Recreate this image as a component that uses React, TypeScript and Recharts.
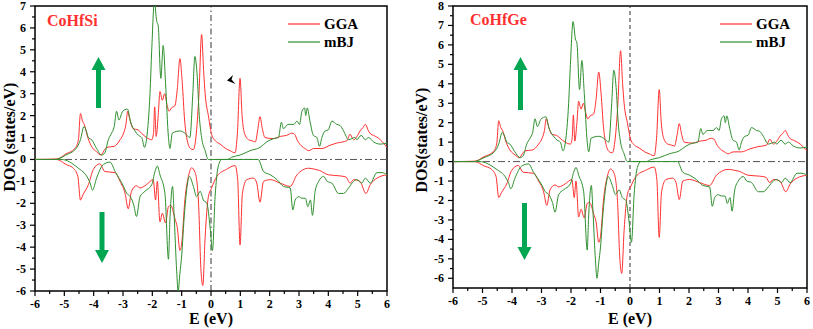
import { LineChart, Line, XAxis, YAxis, ReferenceLine, ReferenceArea, Legend } from 'recharts';

// energy (eV) vs DOS (states/eV); spin-down drawn as negative values
const ggaUp: [number, number][] = [
  [-6, 0], [-5.26, 0.02], [-4.95, 0.25], [-4.64, 0.5], [-4.52, 0.9], [-4.45, 2.1], [-4.38, 1.75], [-4.32, 1.6],
  [-4.2, 1.0], [-4.05, 0.55], [-3.9, 0.35], [-3.75, 0.2], [-3.65, 0.4], [-3.56, 0.55], [-3.3, 0.6], [-3.1, 0.9],
  [-2.98, 1.2], [-2.9, 1.6], [-2.84, 2.2], [-2.78, 1.9], [-2.65, 1.4], [-2.49, 1.35], [-2.37, 1.2], [-2.2, 1.0],
  [-2.02, 0.9], [-1.96, 1.2], [-1.92, 2.4], [-1.87, 1.05], [-1.8, 2.0], [-1.74, 3.1], [-1.66, 2.7], [-1.58, 3.0],
  [-1.5, 2.5], [-1.43, 2.2], [-1.35, 2.35], [-1.23, 2.45], [-1.15, 3.2], [-1.06, 4.6], [-0.98, 3.5], [-0.9, 1.8],
  [-0.83, 1.0], [-0.7, 0.5], [-0.6, 0.45], [-0.5, 1.2], [-0.41, 3.0], [-0.32, 5.7], [-0.25, 4.0], [-0.2, 3.0],
  [-0.09, 2.0], [0.03, 1.1], [0.15, 0.85], [0.31, 0.7], [0.5, 0.5], [0.65, 0.4], [0.82, 0.3], [0.9, 1.2],
  [0.99, 3.7], [1.06, 2.0], [1.14, 1.2], [1.28, 0.9], [1.4, 0.85], [1.51, 0.8], [1.6, 1.4], [1.67, 1.95],
  [1.75, 1.4], [1.84, 1.0], [2.13, 0.95], [2.36, 1.05], [2.58, 1.1], [2.76, 1.2], [2.85, 1.15], [2.95, 0.85],
  [3.1, 0.6], [3.2, 0.5], [3.33, 0.4], [3.5, 0.5], [3.78, 0.5], [4.06, 0.65], [4.29, 0.75], [4.63, 0.85],
  [4.74, 1.15], [4.86, 0.9], [5.0, 1.1], [5.08, 1.3], [5.18, 1.45], [5.26, 1.6], [5.37, 1.3], [5.45, 1.15],
  [5.54, 1.1], [5.77, 0.9], [6, 0.55],
];

const mbjUp: [number, number][] = [
  [-6, 0], [-5.3, 0], [-5.2, 0.03], [-4.95, 0.2], [-4.6, 0.5], [-4.45, 0.9], [-4.33, 1.5], [-4.25, 1.3],
  [-4.18, 1.0], [-4.07, 0.9], [-3.9, 0.5], [-3.73, 0.2], [-3.62, 0.3], [-3.5, 0.9], [-3.39, 1.2], [-3.3, 1.5],
  [-3.22, 2.2], [-3.14, 1.8], [-3.01, 2.2], [-2.85, 2.3], [-2.74, 1.7], [-2.59, 1.3], [-2.47, 1.1], [-2.36, 1.0],
  [-2.27, 0.55], [-2.19, 1.0], [-2.08, 3.0], [-2.02, 5.0], [-1.93, 7.2], [-1.85, 6.3], [-1.8, 6.1], [-1.71, 3.7],
  [-1.63, 5.2], [-1.55, 3.5], [-1.45, 1.0], [-1.4, 0.5], [-1.32, 1.2], [-1.06, 1.3], [-0.89, 1.2], [-0.72, 1.0],
  [-0.62, 3.0], [-0.55, 4.7], [-0.47, 3.8], [-0.4, 2.0], [-0.32, 1.0], [-0.2, 0.4], [-0.09, 0], [0.55, 0],
  [0.7, 0.1], [0.99, 0.2], [1.33, 0.4], [1.67, 0.55], [1.9, 0.8], [2.13, 0.95], [2.3, 1.0], [2.4, 1.7],
  [2.47, 1.4], [2.62, 1.6], [2.82, 1.6], [2.93, 1.75], [3.02, 1.6], [3.1, 2.2], [3.19, 2.35], [3.23, 2.0],
  [3.28, 2.35], [3.38, 1.7], [3.49, 1.1], [3.61, 1.0], [3.7, 0.6], [3.78, 1.0], [3.89, 1.3], [4.0, 1.35],
  [4.12, 1.75], [4.29, 1.6], [4.4, 1.55], [4.52, 1.3], [4.69, 0.9], [4.91, 1.0], [4.97, 0.9], [5.12, 1.1],
  [5.26, 0.9], [5.37, 1.0], [5.54, 0.8], [5.77, 0.7], [6, 0.75],
];

const ggaDown: [number, number][] = [
  [-6, 0], [-5.26, 0], [-4.94, -0.23], [-4.71, -0.38], [-4.54, -0.77], [-4.45, -1.85], [-4.36, -1.6], [-4.18, -1.15],
  [-4.01, -0.45], [-3.79, -0.2], [-3.62, -0.55], [-3.27, -0.6], [-3.1, -1.0], [-2.93, -1.55], [-2.82, -2.25], [-2.71, -1.45],
  [-2.54, -1.2], [-2.42, -1.3], [-2.2, -1.15], [-1.97, -0.92], [-1.89, -1.85], [-1.83, -1.0], [-1.74, -2.85], [-1.66, -2.45],
  [-1.55, -2.9], [-1.45, -2.15], [-1.37, -2.1], [-1.23, -2.7], [-1.15, -3.1], [-1.06, -4.15], [-1.0, -3.85], [-0.89, -1.85],
  [-0.77, -0.77], [-0.66, -0.38], [-0.54, -0.6], [-0.43, -1.85], [-0.34, -5.1], [-0.28, -5.75], [-0.2, -3.55], [-0.09, -1.7],
  [0.02, -1.3], [0.2, -0.77], [0.53, -0.45], [0.82, -0.28], [0.91, -0.92], [0.99, -3.9], [1.07, -1.55], [1.22, -0.92],
  [1.45, -0.85], [1.56, -1.08], [1.67, -1.95], [1.79, -1.0], [2.02, -0.92], [2.36, -1.08], [2.7, -1.23], [2.93, -0.7],
  [3.33, -0.4], [3.55, -0.45], [3.7, -0.5], [4.0, -0.7], [4.4, -0.75], [4.6, -0.8], [4.74, -1.08], [4.86, -0.92],
  [5.08, -1.0], [5.28, -1.55], [5.43, -1.15], [5.66, -0.85], [6, -0.7],
];

const mbjDown: [number, number][] = [
  [-6, 0], [-5.1, 0], [-4.54, -0.38], [-4.2, -0.85], [-4.12, -1.08], [-4.04, -1.4], [-3.9, -0.85], [-3.67, -0.23],
  [-3.44, -0.12], [-3.27, -0.55], [-2.98, -1.23], [-2.87, -1.55], [-2.75, -1.7], [-2.63, -2.1], [-2.54, -2.6], [-2.42, -1.7],
  [-2.25, -1.45], [-2.02, -1.15], [-1.91, -0.55], [-1.83, -0.3], [-1.74, -0.7], [-1.57, -1.55], [-1.45, -4.55], [-1.4, -2.75],
  [-1.31, -1.23], [-1.26, -2.45], [-1.17, -5.1], [-1.12, -6.0], [-1.06, -5.2], [-1.0, -4.4], [-0.92, -2.75], [-0.83, -1.4],
  [-0.74, -0.77], [-0.6, -1.23], [-0.49, -1.7], [-0.37, -1.45], [-0.26, -1.85], [-0.14, -2.0], [-0.03, -3.1], [0.05, -4.15],
  [0.14, -1.7], [0.25, -0.3], [0.37, 0], [1.61, 0], [1.79, -0.55], [2.02, -0.7], [2.25, -0.92], [2.47, -1.23],
  [2.7, -1.3], [2.79, -2.3], [2.87, -1.85], [2.99, -1.7], [3.1, -1.77], [3.22, -1.77], [3.3, -2.15], [3.39, -1.85],
  [3.46, -2.55], [3.55, -1.45], [3.67, -1.0], [3.84, -0.77], [3.96, -1.0], [4.12, -1.08], [4.35, -1.55], [4.52, -1.55],
  [4.69, -1.3], [4.86, -1.0], [4.97, -0.92], [5.14, -1.08], [5.26, -0.85], [5.43, -1.08], [5.66, -0.6], [5.83, -0.6],
  [6, -0.7],
];

const energyMajor = [-6, -5, -4, -3, -2, -1, 0, 1, 2, 3, 4, 5, 6];
const dosMajorSi = [-6, -5, -4, -3, -2, -1, 0, 1, 2, 3, 4, 5, 6, 7];
const dosMajorGe = [-6, -5, -4, -3, -2, -1, 0, 1, 2, 3, 4, 5, 6, 7, 8];

const FONT = '"Liberation Serif", "Times New Roman", serif';
const RED = '#ff3030';
const GREEN = '#2e8f2e';
const ARROW = '#00a651';

const toPts = (arr: [number, number][]) => arr.map(([E, dos]) => ({ E, dos }));
const withMinor = (major: number[]) =>
  major.flatMap((v, i) => (i < major.length - 1 ? [v, v + 0.5] : [v]));

function XTick({ x, y, payload }: any) {
  const v = payload.value;
  const major = Number.isInteger(v);
  return (
    <g>
      <line x1={x} x2={x} y1={y} y2={y + (major ? 5 : 3)} stroke="#000" strokeWidth={1.2} />
      {major && (
        <text x={x} y={y + 17} textAnchor="middle" fontFamily={FONT} fontWeight="bold" fontSize={12} fill="#000">
          {v}
        </text>
      )}
    </g>
  );
}

function YTick({ x, y, payload }: any) {
  const v = payload.value;
  const major = Number.isInteger(v);
  return (
    <g>
      <line x1={x - (major ? 5 : 3)} x2={x} y1={y} y2={y} stroke="#000" strokeWidth={1.2} />
      {major && (
        <text x={x - 9} y={y + 4} textAnchor="end" fontFamily={FONT} fontWeight="bold" fontSize={12} fill="#000">
          {v}
        </text>
      )}
    </g>
  );
}

function LegendBox({ payload }: any) {
  const items = (payload || []).filter((p: any) => p.type !== 'none' && !String(p.value).includes('down'));
  return (
    <div style={{ whiteSpace: 'nowrap' }}>
      {items.map((p: any) => (
        <div key={p.value} style={{ display: 'flex', alignItems: 'center', height: 18 }}>
          <svg width={32} height={4}>
            <line x1={0} x2={32} y1={2} y2={2} stroke={p.color} strokeWidth={1.2} />
          </svg>
          <span style={{ marginLeft: 4, fontFamily: FONT, fontWeight: 'bold', fontSize: 15, color: '#000' }}>
            {p.value}
          </span>
        </div>
      ))}
    </div>
  );
}

function Panel(props: {
  width: number;
  yMin: number;
  yMax: number;
  yMajor: number[];
  axisW: number;
  xH: number;
  right: number;
  zeroDash: string;
  legendLeft: number;
}) {
  const { width, yMin, yMax, yMajor, axisW, xH, right, zeroDash, legendLeft } = props;
  return (
    <LineChart width={width} height={329} margin={{ top: 6, right, bottom: 0, left: 0 }}>
      <XAxis
        type="number"
        dataKey="E"
        domain={[-6, 6]}
        ticks={withMinor(energyMajor)}
        interval={0}
        height={xH}
        tickSize={0}
        tickMargin={0}
        axisLine={false}
        tickLine={false}
        tick={<XTick />}
        allowDataOverflow
      />
      <YAxis
        type="number"
        domain={[yMin, yMax]}
        ticks={withMinor(yMajor).filter((v) => v >= yMin)}
        interval={0}
        width={axisW}
        tickSize={0}
        tickMargin={0}
        axisLine={false}
        tickLine={false}
        tick={<YTick />}
        allowDataOverflow
      />
      <ReferenceLine y={0} stroke="#555" strokeWidth={1} strokeDasharray="7 3 2 3" />
      <ReferenceLine x={0} stroke="#333" strokeWidth={1} strokeDasharray={zeroDash} />
      <Legend
        layout="horizontal"
        verticalAlign="middle"
        align="center"
        wrapperStyle={{ top: 15, left: legendLeft, width: 'auto' }}
        content={<LegendBox />}
      />
      <Line data={toPts(ggaUp)} dataKey="dos" name="GGA" type="monotone" stroke={RED} strokeWidth={1} dot={false} isAnimationActive={false} />
      <Line data={toPts(mbjUp)} dataKey="dos" name="mBJ" type="monotone" stroke={GREEN} strokeWidth={1} dot={false} isAnimationActive={false} />
      <Line data={toPts(ggaDown)} dataKey="dos" name="GGA down" legendType="none" type="monotone" stroke={RED} strokeWidth={1} dot={false} isAnimationActive={false} />
      <Line data={toPts(mbjDown)} dataKey="dos" name="mBJ down" legendType="none" type="monotone" stroke={GREEN} strokeWidth={1} dot={false} isAnimationActive={false} />
      <ReferenceArea x1={-6} x2={6} y1={yMin} y2={yMax} fill="none" fillOpacity={0} stroke="#000" strokeWidth={1.5} />
    </LineChart>
  );
}

function Arrow({ cx, tip, tail }: { cx: number; tip: number; tail: number }) {
  const d = tip < tail ? 1 : -1; // 1 = pointing up
  const base = tip + d * 13;
  return (
    <polygon
      fill={ARROW}
      points={`${cx},${tip} ${cx + 7},${base} ${cx + 2.5},${base} ${cx + 2.5},${tail} ${cx - 2.5},${tail} ${cx - 2.5},${base} ${cx - 7},${base}`}
    />
  );
}

export default function App() {
  const title = { fontFamily: FONT, fontWeight: 'bold' as const, fontSize: 16, fill: '#000' };
  return (
    <div style={{ position: 'absolute', left: 0, top: 0, width: 813, height: 329, background: '#fff' }}>
      <div style={{ position: 'absolute', left: 0, top: 0 }}>
        <Panel width={410} yMin={-6} yMax={7} yMajor={dosMajorSi} axisW={35} xH={38} right={23} zeroDash="6 3 1.5 3" legendLeft={288} />
      </div>
      <div style={{ position: 'absolute', left: 405, top: 0 }}>
        <Panel width={408} yMin={-6.5} yMax={8} yMajor={dosMajorGe} axisW={48} xH={41} right={6} zeroDash="4 3" legendLeft={315} />
      </div>
      <svg width={813} height={329} style={{ position: 'absolute', left: 0, top: 0, pointerEvents: 'none' }}>
        <text x={15} y={137} transform="rotate(-90 15 137)" textAnchor="middle" {...title}>DOS (states/eV)</text>
        <text x={427} y={140} transform="rotate(-90 427 140)" textAnchor="middle" {...title}>DOS(states/eV)</text>
        <text x={211} y={324} textAnchor="middle" {...title}>E (eV)</text>
        <text x={630} y={324} textAnchor="middle" {...title}>E (eV)</text>
        <text x={47} y={26} {...title} fill={RED}>CoHfSi</text>
        <text x={470} y={25} {...title} fill={RED}>CoHfGe</text>
        <Arrow cx={98.5} tip={57} tail={108} />
        <Arrow cx={102} tip={263} tail={212} />
        <Arrow cx={520.5} tip={57} tail={110} />
        <Arrow cx={524.5} tip={260} tail={203} />
        <polygon points="227,80.5 233,75 231.5,79.5 235.5,84" fill="#000" />
      </svg>
    </div>
  );
}
